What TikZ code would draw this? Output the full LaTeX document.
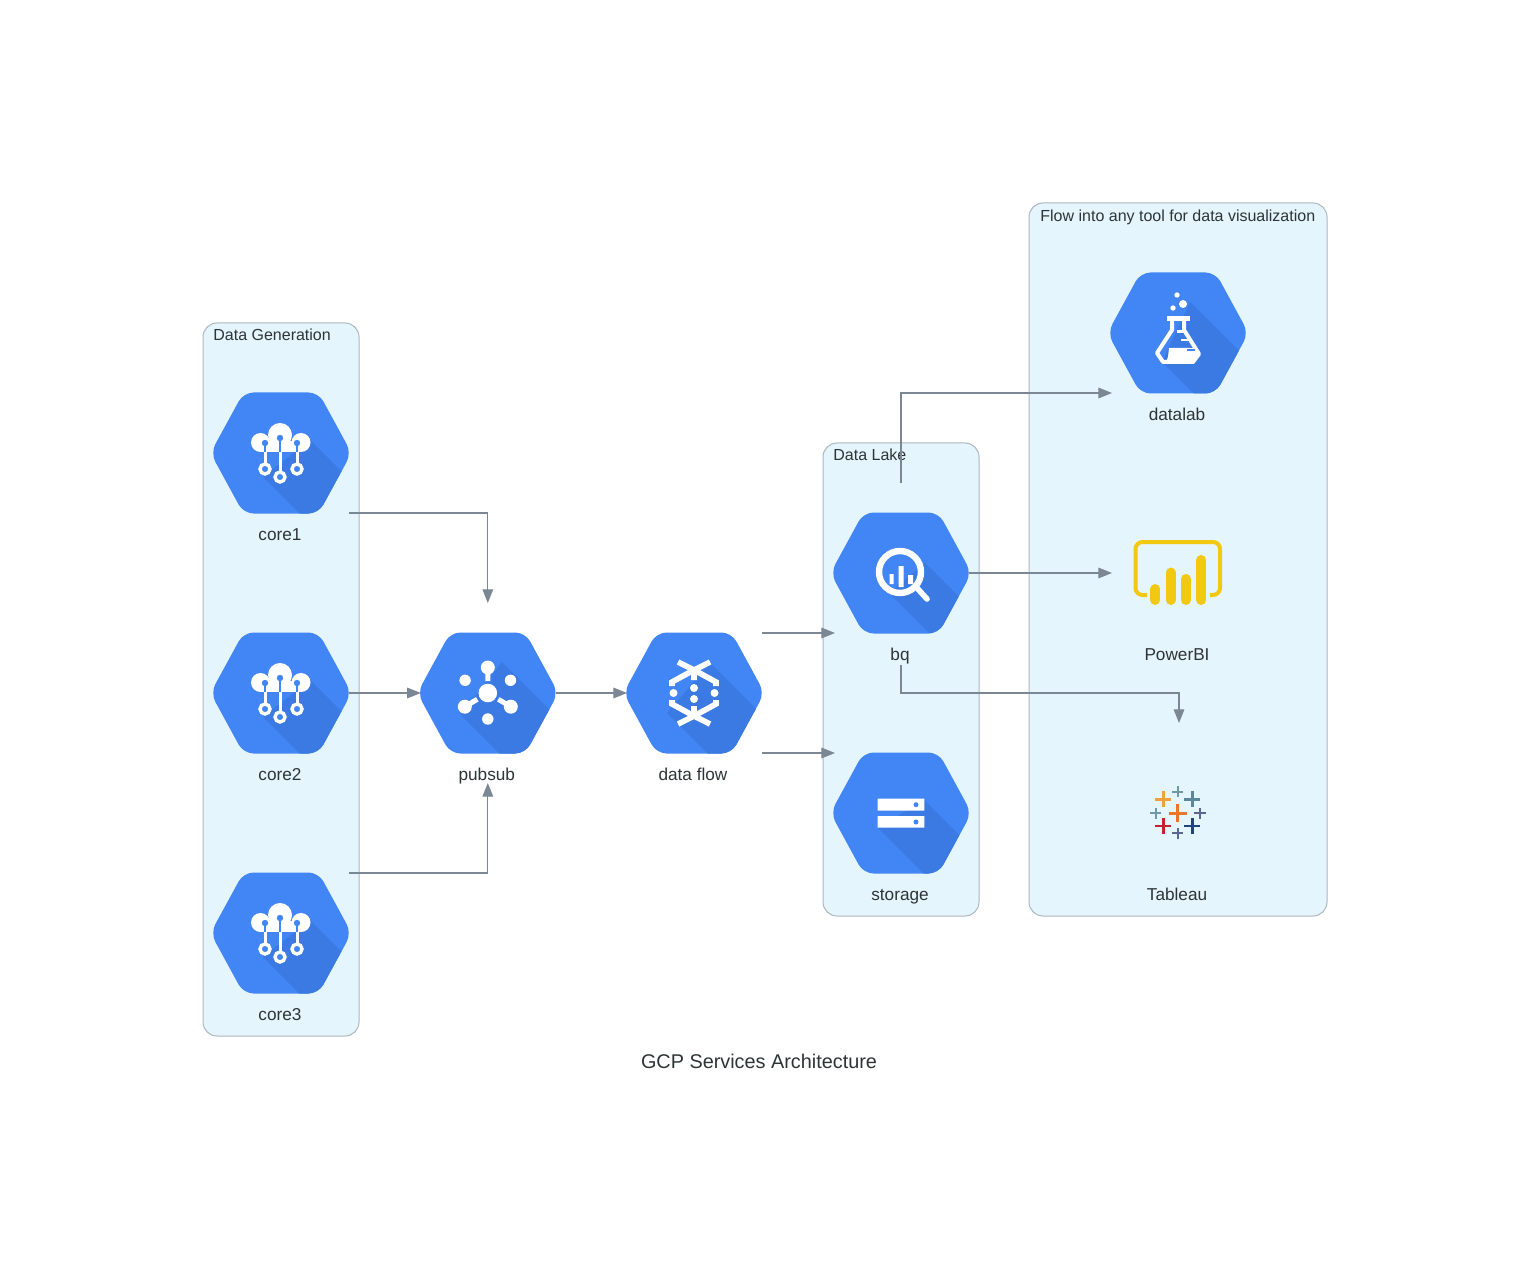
\documentclass[tikz,border=0pt]{standalone}
\usepackage{fontspec}
\setmainfont{Liberation Sans}
\usetikzlibrary{arrows.meta,calc}
\definecolor{gblue}{HTML}{4285F4}
\definecolor{gshade}{HTML}{3B7AE2}
\definecolor{clfill}{HTML}{E5F5FD}
\definecolor{clline}{HTML}{AEB6BE}
\definecolor{edgec}{HTML}{7B8894}
\definecolor{textc}{HTML}{2D3436}
\definecolor{pbi}{HTML}{F2C811}
\definecolor{taborange}{HTML}{E8762D}
\definecolor{tabamber}{HTML}{F2A03C}
\definecolor{tabteal}{HTML}{7099A6}
\definecolor{tabsteel}{HTML}{5B879B}
\definecolor{tabviolet}{HTML}{5C6692}
\definecolor{tabred}{HTML}{C72035}
\definecolor{tabnavy}{HTML}{1F447E}
\tikzset{
  nodebox/.style={minimum width=68pt,minimum height=90pt,inner sep=0pt,outer sep=0pt},
  lbl/.style={anchor=base,inner sep=0pt,text=textc,font=\fontsize{8.6pt}{10pt}\selectfont},
  cluster/.style={draw=clline,fill=clfill,line width=0.5pt,rounded corners=7pt},
  clbl/.style={anchor=base west,inner sep=0pt,text=textc,font=\fontsize{8pt}{10pt}\selectfont},
  ttl/.style={anchor=base,inner sep=0pt,text=textc,font=\fontsize{9.92pt}{12pt}\selectfont},
  conn/.style={draw=edgec,line width=0.55pt,-{Triangle[length=6.8pt,width=5.3pt,fill=edgec]}},
  wl/.style={draw=white,line width=#1},
  wl/.default=2pt,
}
% hex icon: name, x, y, shadow start a, shadow start b, icon
\newcommand{\hexnode}[6]{%
  \node[nodebox] (#1) at (#2,#3) {};
  \begin{scope}[shift={(#2,#3)}]
    \begin{scope}
      \clip[rounded corners=5pt] (-70.5,0) -- (-37.5,-60.5) -- (37.5,-60.5) -- (70.5,0) -- (37.5,60.5) -- (-37.5,60.5) -- cycle;
      \fill[gblue] (-75,-65) rectangle (75,65);
      \fill[gshade] (#4) -- ($(#4)+(120,120)$) -- ($(#5)+(120,120)$) -- (#5) -- cycle;
    \end{scope}
    #6
  \end{scope}
}
\newcommand{\iconcore}{%
  \fill[white] (-20.5,-10.5) circle (9.5);
  \fill[white] (-1,-18) circle (12);
  \fill[white] (20,-10.5) circle (9.5);
  \fill[white] (-20.5,-12) rectangle (20,-1);
  \draw[gblue,line width=1.3pt] (-16,-10) -- (-16,-1) (-1,-15) -- (-1,-1) (16,-10) -- (16,-1);
  \fill[gblue] (-16,-10) circle (3.2);
  \fill[gblue] (-1,-15) circle (3.2);
  \fill[gblue] (16,-10) circle (3.2);
  \draw[wl=1.5pt] (-16,-1) -- (-16,11) (-1,-1) -- (-1,19) (16,-1) -- (16,11);
  \draw[wl=1.7pt,fill=gblue] (-16,16) circle (5);
  \draw[wl=1.7pt,fill=gblue] (-1,24) circle (5);
  \draw[wl=1.7pt,fill=gblue] (16,16) circle (5);
}
\newcommand{\iconpubsub}{%
  \fill[white] (0,0) circle (9.3) (0,-25.5) circle (7) (-22.7,-12.7) circle (5.7) (22.7,-12.7) circle (5.7)
    (0,26) circle (5.7) (-23,13.7) circle (7) (23,13.7) circle (7);
  \draw[wl=2.5pt] (0,-25) -- (0,-12) (-23,13.7) -- (-10.5,6.3) (23,13.7) -- (10.5,6.3);
}
\newcommand{\icondataflow}{%
  \draw[wl=2.8pt,line join=miter] (-16,-31) -- (0,-23) -- (16,-31) (0,-23) -- (0,-13)
    (-22,-7) -- (-22,-11) -- (0,-23) -- (22,-11) -- (22,-7);
  \draw[wl=2.8pt,line join=miter] (-16,31) -- (0,23) -- (16,31) (0,23) -- (0,13)
    (-22,7) -- (-22,11) -- (0,23) -- (22,11) -- (22,7);
  \fill[white] (-20.5,0) circle (4) (20.5,0) circle (4) (0,-5) circle (4) (0,6) circle (4);
}
\newcommand{\iconbq}{%
  \draw[wl=3.2pt] (-1,-1) circle (21);
  \fill[white] (-11.5,1) rectangle (-7.3,11) (-2.3,-7) rectangle (2.6,14) (7,2) rectangle (12,11);
  \draw[wl=2.8pt,line cap=round] (16,15) -- (26,26);
}
\newcommand{\iconstorage}{%
  \fill[white] (-23.3,-14.3) rectangle (23.3,-2.3) (-23.3,3) rectangle (23.3,14.7);
  \fill[gblue] (15,-8.3) circle (2.5) (15,9) circle (2.5);
}
\newcommand{\icondatalab}{%
  \fill[white] (-1,-38) circle (2.7) (5,-29) circle (4) (-5,-25) circle (2.7);
  \fill[white] (-11,-16.5) rectangle (12,-12);
  \draw[wl=2pt,line join=round] (-6,-12) -- (-6,-3) -- (-21,20) -- (-15,29) -- (15,29) -- (21,21) -- (6,-3) -- (6,-12);
  \fill[white] (-9,15) -- (15,15) -- (21,22) -- (15,29) -- (-12,29) -- (-10,24) -- cycle;
  \draw[wl=1.2pt] (-1,-1.5) -- (6,-1.5) (3,7) -- (13,7);
  \draw[gblue,line width=1.2pt] (9,17) -- (17,17);
}
\newcommand{\pluss}[5]{% x y half width colour
  \draw[#5,line width=#4pt] (#1-#3,#2) -- (#1+#3,#2) (#1,#2-#3) -- (#1,#2+#3);
}
\begin{document}
\begin{tikzpicture}[x=0.5pt,y=-0.5pt]
\useasboundingbox (0,0) rectangle (1519,1272);
% clusters
\draw[cluster] (203,323) rectangle (359,1036);
\draw[cluster] (823,443) rectangle (979,916);
\draw[cluster] (1029,203) rectangle (1327,916);
\node[clbl] (cl1) at (213,341) {Data Generation};
\node[clbl] (cl2) at (833,461) {Data Lake};
\node[clbl] (cl3) at (1040,221.5) {Flow into any tool for data visualization};
% nodes
\hexnode{core1}{281}{453}{29,-13}{-18,24}{\iconcore}
\hexnode{core2}{281}{693}{29,-13}{-18,24}{\iconcore}
\hexnode{core3}{281}{933}{29,-13}{-18,24}{\iconcore}
\hexnode{pubsub}{487.8}{693}{14,-31}{-27,22}{\iconpubsub}
\hexnode{dataflow}{694}{693}{16,-30}{-27,20}{\icondataflow}
\hexnode{bq}{901}{573}{24,-10}{-12,20}{\iconbq}
\hexnode{storage}{901}{813}{23,-13}{-23,15}{\iconstorage}
\hexnode{datalab}{1178}{333}{12,-31}{-16,29}{\icondatalab}
\node[nodebox] (powerbi) at (1178,573) {};
\begin{scope}[shift={(1178,573)}]
  \draw[pbi,line width=2pt,rounded corners=3.5pt] (-31,22) -- (-42.5,22) -- (-42.5,-31) -- (42,-31) -- (42,22) -- (32,22);
  \draw[pbi,line width=5pt,line cap=round] (-22.7,16) -- (-22.7,27) (-7.3,-0.5) -- (-7.3,27) (8,6) -- (8,27) (23.3,-13) -- (23.3,27);
\end{scope}
\node[nodebox] (tableau) at (1178,813) {};
\begin{scope}[shift={(1177.7,813.3)}]
  \pluss{-14.3}{-14}{8}{1.2}{tabamber}
  \pluss{0}{-21.7}{5.7}{0.9}{tabteal}
  \pluss{14.7}{-14}{8}{1.2}{tabsteel}
  \pluss{22.3}{0}{5.7}{1}{tabviolet}
  \pluss{-22}{0}{5.7}{0.9}{tabteal}
  \pluss{0}{0}{9}{1.6}{taborange}
  \pluss{-14.3}{12.7}{8}{1.2}{tabred}
  \pluss{14.7}{12.7}{8}{1.2}{tabnavy}
  \pluss{0}{20}{5.7}{1}{tabviolet}
\end{scope}
% labels
\node[lbl] (l1) at ($(core1.center)+(-1,87)$) {core1};
\node[lbl] (l2) at ($(core2.center)+(-1,87)$) {core2};
\node[lbl] (l3) at ($(core3.center)+(-1,87)$) {core3};
\node[lbl] (l4) at ($(pubsub.center)+(-1,87)$) {pubsub};
\node[lbl] (l5) at ($(dataflow.center)+(-1,87)$) {data flow};
\node[lbl] (l6) at ($(bq.center)+(-1,87)$) {bq};
\node[lbl] (l7) at ($(storage.center)+(-1,87)$) {storage};
\node[lbl] (l8) at ($(datalab.center)+(-1,87.5)$) {datalab};
\node[lbl] (l9) at ($(powerbi.center)+(-1,87)$) {PowerBI};
\node[lbl] (l10) at ($(tableau.center)+(-1,87)$) {Tableau};
\node[ttl] (title) at (759,1068) {GCP Services Architecture};
% connectors
\draw[conn] ($(core1.east)+(0,60)$) -| (pubsub.north);
\draw[conn] (core2.east) -- ($(pubsub.west)+(1,0)$);
\draw[conn] ($(core3.east)+(0,-60)$) -| (pubsub.south);
\draw[conn] (pubsub.east) -- ($(dataflow.west)+(1,0)$);
\draw[conn] ($(dataflow.east)+(0,-60)$) -- ($(bq.west)+(2,60)$);
\draw[conn] ($(dataflow.east)+(0,60)$) -- ($(storage.west)+(2,-60)$);
\draw[conn] (bq.north) |- ($(datalab.west)+(2,60)$);
\draw[conn] (bq.east) -- ($(powerbi.west)+(2,0)$);
\draw[conn] ($(bq.south)+(0,2)$) |- ($(bq.south)+(139,30)$) -| ($(tableau.north)+(1,0)$);
\end{tikzpicture}
\end{document}
